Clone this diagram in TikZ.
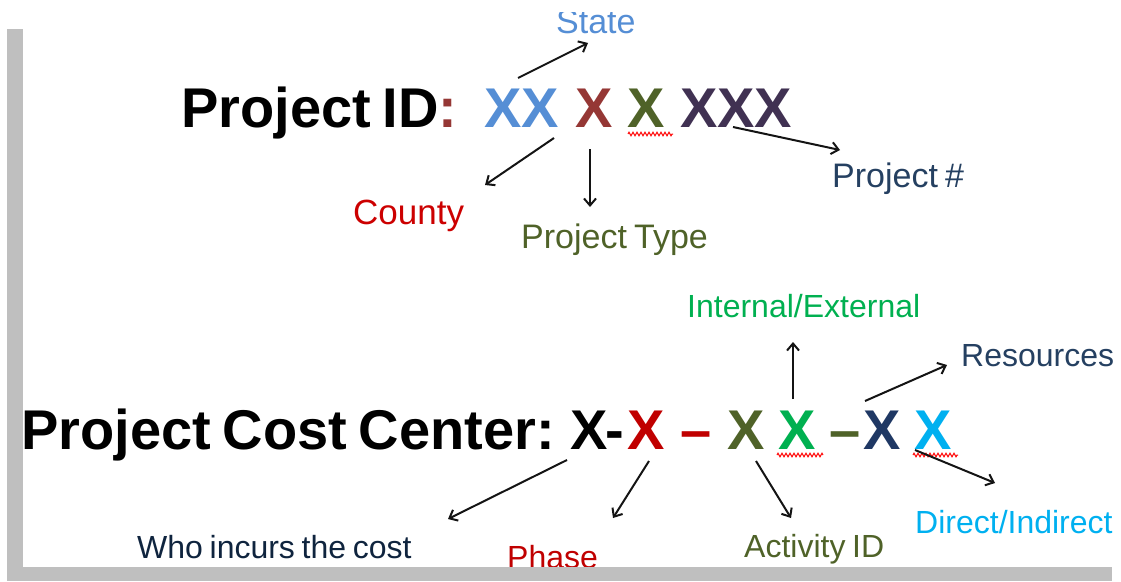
\documentclass[tikz,border=0pt]{standalone}
\usepackage{fontspec}
\setmainfont{Liberation Sans}[WordSpace=0.75]
\usetikzlibrary{arrows.meta,decorations.pathmorphing}

\definecolor{stateblue}{HTML}{558ED5}
\definecolor{countyred}{HTML}{953735}
\definecolor{typeolive}{HTML}{4F6228}
\definecolor{numpurple}{HTML}{403152}
\definecolor{labred}{HTML}{CC0000}
\definecolor{labnavy}{HTML}{254061}
\definecolor{ccred}{HTML}{C00000}
\definecolor{ccgreen}{HTML}{00B050}
\definecolor{ccnavy}{HTML}{1F3864}
\definecolor{cccyan}{HTML}{00B0F0}
\definecolor{whonavy}{HTML}{0F243E}
\definecolor{framegray}{HTML}{BFBFBF}
\definecolor{arrowink}{HTML}{141414}

\begin{document}
\begin{tikzpicture}[x=1pt,y=-1pt,
  big/.style={inner sep=0pt, anchor=base west, font=\fontsize{56}{60}\selectfont\bfseries},
  lbltop/.style={inner sep=0pt, anchor=base west, font=\fontsize{34}{40}\selectfont},
  lblbot/.style={inner sep=0pt, anchor=base west, font=\fontsize{32}{36}\selectfont},
  pointer/.style={draw=arrowink, line width=2pt, -{Straight Barb[length=7pt,width=12pt]}},
  squiggle/.style={draw=red, line width=1pt, decorate,
    decoration={zigzag, segment length=4pt, amplitude=1.8pt}},
  bar/.style={fill=framegray, draw=none}]
\useasboundingbox (0,0) rectangle (1121,581);

% ---------- Project ID line ----------
\node[big] (pid) at (181,127) {Project ID\textcolor{countyred}{:}};
\node[big, text=stateblue]  (idst) at (484,127) {XX};
\node[big, text=countyred]  (idco) at (575,127) {X};
\node[big, text=typeolive]  (idty) at (627,127) {X};
\node[big, text=numpurple]  (idnu) at (680,127) {XXX};
\draw[squiggle] (628,134) -- (673,134);

% labels around the Project ID
\begin{scope}
  \clip (540,12) rectangle (660,45);
  \node[lbltop, text=stateblue] (lstate) at (556,33) {State};
\end{scope}
\node[lbltop, text=labred, font=\fontsize{35}{40}\selectfont] (lcounty) at (353,224) {County};
\node[lbltop, text=typeolive] (ltype) at (521,248) {Project Type};
\node[lbltop, text=labnavy] (lnum) at (832,187) {Project \#};

% pointer end points
\coordinate (st0) at (518,78);  \coordinate (st1) at (588,43);
\coordinate (co0) at (554,138); \coordinate (co1) at (485,185);
\coordinate (ty0) at (590,149); \coordinate (ty1) at (590,207);
\coordinate (nu0) at (733,127); \coordinate (nu1) at (840,150);
\draw[pointer] (st0) -- (st1);
\draw[pointer] (co0) -- (co1);
\draw[pointer] (ty0) -- (ty1);
\draw[pointer] (nu0) -- (nu1);

% ---------- Project Cost Center line ----------
\node[big] (pcc) at (21,449) {Project Cost Center:};
\node[big]                 (ccwho) at (570,449) {X};
\node[big]                 (cch1)  at (605,449) {-};
\node[big, text=ccred]     (ccph)  at (627,449) {X};
\node[big, text=ccred]     (ccd1)  at (680,449) {\char"2013};
\node[big, text=typeolive] (ccact) at (727,449) {X};
\node[big, text=ccgreen]   (ccie)  at (778,449) {X};
\node[big, text=typeolive] (ccd2)  at (829,449) {\char"2013};
\node[big, text=ccnavy]    (ccres) at (863,449) {X};
\node[big, text=cccyan]    (ccdir) at (914,449) {X};
\draw[squiggle] (777,455) -- (823,455);
\draw[squiggle] (913,455) -- (958,455);

% labels around the cost center
\node[lblbot, text=ccgreen]   (lie)  at (687,317) {Internal/External};
\node[lblbot, text=labnavy]   (lres) at (961,366) {Resources};
\node[lblbot, text=cccyan]    (ldir) at (915,533) {Direct/Indirect};
\node[lblbot, text=typeolive] (lact) at (744,557) {Activity ID};
\node[lblbot, text=ccred]     (lph)  at (507,568) {Phase};
\node[lblbot, text=whonavy]   (lwho) at (137,558) {Who incurs the cost};

\coordinate (ie0) at (793,399);  \coordinate (ie1) at (793,342);
\coordinate (re0) at (865,401);  \coordinate (re1) at (947,365);
\coordinate (wh0) at (567,460);  \coordinate (wh1) at (448,519);
\coordinate (ph0) at (649,461);  \coordinate (ph1) at (613,518);
\coordinate (ac0) at (756,461);  \coordinate (ac1) at (791,518);
\coordinate (di0) at (915,450);  \coordinate (di1) at (995,483);
\draw[pointer] (ie0) -- (ie1);
\draw[pointer] (re0) -- (re1);
\draw[pointer] (wh0) -- (wh1);
\draw[pointer] (ph0) -- (ph1);
\draw[pointer] (ac0) -- (ac1);
\draw[pointer] (di0) -- (di1);

% ---------- frame ----------
\path[bar] (7,29) rectangle (23,581);
\path[bar] (7,567) rectangle (1112,581);
\end{tikzpicture}
\end{document}
